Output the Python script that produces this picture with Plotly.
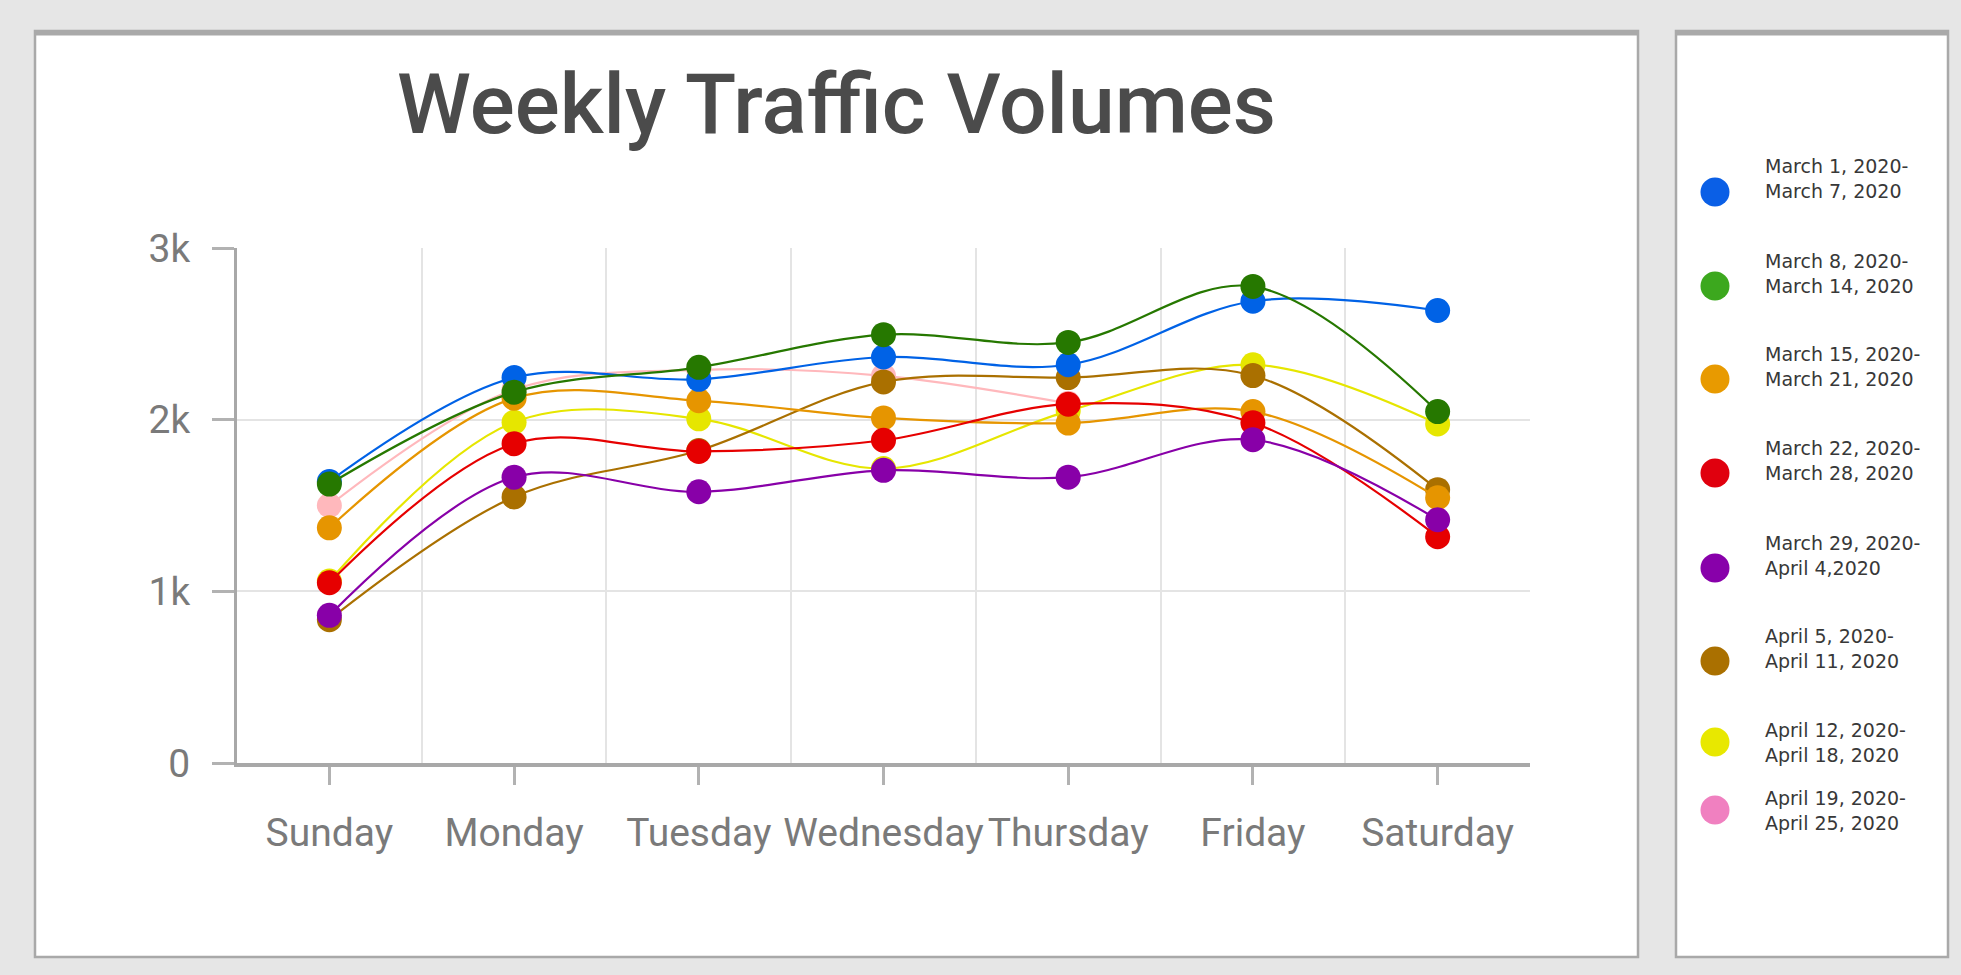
import plotly.graph_objects as go

# ---------------- data ----------------
days = ["Sunday", "Monday", "Tuesday", "Wednesday", "Thursday", "Friday", "Saturday"]

week_labels = [
    "March 1, 2020-<br>March 7, 2020",
    "March 8, 2020-<br>March 14, 2020",
    "March 15, 2020-<br>March 21, 2020",
    "March 22, 2020-<br>March 28, 2020",
    "March 29, 2020-<br>April 4,2020",
    "April 5, 2020-<br>April 11, 2020",
    "April 12, 2020-<br>April 18, 2020",
    "April 19, 2020-<br>April 25, 2020",
]

mar01 = [1640, 2245, 2235, 2365, 2320, 2690, 2636]
mar08 = [1625, 2160, 2305, 2495, 2450, 2776, 2047]
mar15 = [1370, 2125, 2110, 2010, 1980, 2047, 1545]
mar22 = [1050, 1860, 1815, 1880, 2090, 1982, 1318]
mar29 = [860, 1665, 1580, 1705, 1665, 1883, 1417]
apr05 = [835, 1550, 1820, 2220, 2245, 2257, 1592]
apr12 = [1060, 1985, 2005, 1715, 2050, 2320, 1975]
apr19 = [1500, 2175, 2290, 2255, 2095, None, None]

series = [mar01, mar08, mar15, mar22, mar29, apr05, apr12, apr19]

# ---------------- style ----------------
line_colors = ["#0062e6", "#267800", "#e69500", "#e60000", "#8800a8", "#aa7000", "#e6e600", "#ffb8bc"]
legend_colors = ["#0a5fe6", "#3ca81e", "#e89a00", "#e0000e", "#8800aa", "#aa7000", "#e8e800", "#f080c0"]
draw_order = [7, 6, 5, 2, 0, 1, 3, 4]

W, H = 1961, 975
def px_x(v):
    return v / W
def px_y(v):
    return 1 - v / H

# legend rows (pixel positions inside the legend panel)
legend_dot_y = [192, 286, 379, 473, 568, 661, 742, 810]
legend_text_y = [178, 273, 366, 460, 555, 648, 742, 810]

fig = go.Figure()

x_idx = list(range(len(days)))
for i in draw_order:
    fig.add_trace(go.Scatter(
        x=x_idx, y=series[i], mode="lines+markers",
        line=dict(color=line_colors[i], width=2.2, shape="spline"),
        marker=dict(color=line_colors[i], size=25),
        name=week_labels[i].replace("<br>", " "),
        showlegend=False, connectgaps=False,
        xaxis="x", yaxis="y",
    ))

# custom legend (large dots) on its own pixel-scaled axes
fig.add_trace(go.Scatter(
    x=[1715] * len(week_labels), y=legend_dot_y, mode="markers",
    marker=dict(color=legend_colors, size=29),
    showlegend=False, hoverinfo="skip", xaxis="x2", yaxis="y2",
))

annotations = []
for lbl, ty in zip(week_labels, legend_text_y):
    annotations.append(dict(
        x=1763, y=ty, xref="x2", yref="y2", text=lbl, showarrow=False,
        xanchor="left", yanchor="middle", align="left",
        font=dict(family="DejaVu Sans", size=19, color="#383838"),
    ))

# title
annotations.append(dict(
    x=px_x(836), y=px_y(104), xref="paper", yref="paper",
    text="Weekly Traffic Volumes", showarrow=False,
    xanchor="center", yanchor="middle",
    font=dict(family="Roboto", size=84, color="#4b4b4b", weight=500),
))

border = "#a9a9a9"
shapes = [
    dict(type="rect", xref="paper", yref="paper", layer="below",
         x0=px_x(35), x1=px_x(1638), y0=px_y(957), y1=px_y(31),
         fillcolor="white", line=dict(color=border, width=2.5)),
    dict(type="line", xref="paper", yref="paper", layer="below",
         x0=px_x(35), x1=px_x(1638), y0=px_y(33), y1=px_y(33),
         line=dict(color=border, width=5)),
    dict(type="rect", xref="paper", yref="paper", layer="below",
         x0=px_x(1676), x1=px_x(1948), y0=px_y(957), y1=px_y(31),
         fillcolor="white", line=dict(color=border, width=2.5)),
    dict(type="line", xref="paper", yref="paper", layer="below",
         x0=px_x(1676), x1=px_x(1948), y0=px_y(33), y1=px_y(33),
         line=dict(color=border, width=5)),
]

tick_font = dict(family="Roboto", size=39, color="#7a7a7a")

fig.update_layout(
    width=W, height=H,
    autosize=False,
    margin=dict(l=0, r=0, t=0, b=0, pad=0, autoexpand=False),
    paper_bgcolor="#e6e6e6",
    plot_bgcolor="rgba(0,0,0,0)",
    showlegend=False,
    shapes=shapes,
    annotations=annotations,
    xaxis=dict(
        domain=[px_x(237), px_x(1530)],
        range=[-0.5, 6.5], automargin=False,
        tickmode="array", tickvals=x_idx, ticktext=days,
        showgrid=False, zeroline=False,
        showline=True, linecolor="#a8a8a8", linewidth=4,
        ticks="outside", ticklen=18, tickwidth=3, tickcolor="#b2b2b2",
        tickfont=tick_font, ticklabelstandoff=14,
        minor=dict(tickmode="array", tickvals=[0.5, 1.5, 2.5, 3.5, 4.5, 5.5, 6.5],
                   showgrid=True, gridcolor="#e4e4e4", gridwidth=2, ticks=""),
        anchor="y",
    ),
    yaxis=dict(
        domain=[px_y(763), px_y(248)],
        range=[0, 3000], automargin=False,
        tickmode="array", tickvals=[0, 1000, 2000, 3000], ticktext=["0", "1k", "2k", "3k"],
        showgrid=True, gridcolor="#e4e4e4", gridwidth=2, zeroline=False,
        showline=True, linecolor="#a8a8a8", linewidth=3,
        ticks="outside", ticklen=22, tickwidth=3, tickcolor="#b2b2b2",
        tickfont=tick_font, ticklabelstandoff=14,
        anchor="x",
    ),
    xaxis2=dict(domain=[px_x(1676), px_x(1948)], range=[1676, 1948], automargin=False,
                visible=False, fixedrange=True, anchor="y2"),
    yaxis2=dict(domain=[0, 1], range=[H, 0], visible=False, fixedrange=True,
                automargin=False, anchor="x2"),
)

pin_page = (
    "document.documentElement.style.margin='0';"
    "document.body.style.margin='0';"
    "document.body.style.overflow='hidden';"
    "var gd=document.getElementById('{plot_id}');"
    "gd.style.position='fixed';gd.style.left='0px';gd.style.top='0px';"
)

fig.write_html("out.html", post_script=pin_page, config={"displayModeBar": False})
